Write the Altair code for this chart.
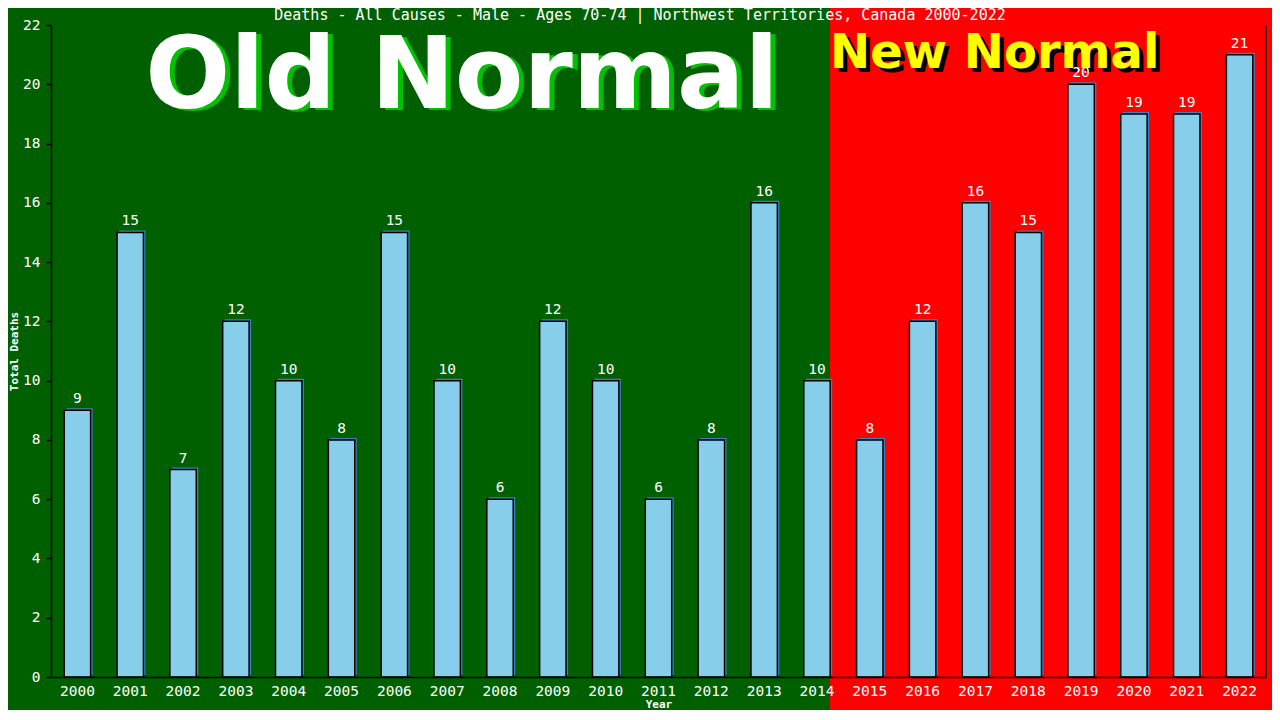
import altair as alt
import pandas as pd

years = ["2000", "2001", "2002", "2003", "2004", "2005", "2006", "2007", "2008",
         "2009", "2010", "2011", "2012", "2013", "2014", "2015", "2016", "2017",
         "2018", "2019", "2020", "2021", "2022"]
deaths = [9, 15, 7, 12, 10, 8, 15, 10, 6, 12, 10, 6, 8, 16, 10, 8, 12, 16, 15, 20, 19, 19, 21]
y_ticks = [0, 2, 4, 6, 8, 10, 12, 14, 16, 18, 20, 22]
title_text = "Deaths - All Causes - Male - Ages 70-74 | Northwest Territories, Canada 2000-2022"

df = pd.DataFrame({"Year": years, "Deaths": deaths})
one = pd.DataFrame({"a": [0]})

W, H = 1215, 652
MONO = "DejaVu Sans Mono"
FS = 14.5

xscale = alt.Scale(domain=years, paddingInner=0.5, paddingOuter=0.25)
yscale = alt.Scale(domain=[0, 22], nice=False)

xaxis = alt.Axis(title="Year", labelColor="white", labelFont=MONO, labelFontSize=FS,
                 labelAngle=0, labelPadding=7, tickSize=0, ticks=False,
                 domainColor="black", domainWidth=1.5, titleColor="white", titleFont=MONO,
                 titleFontSize=11, titleFontWeight="bold", titleY=30,
                 titleBaseline="alphabetic", zindex=2)
yaxis = alt.Axis(title="Total Deaths", values=y_ticks, labelColor="white", labelFont=MONO,
                 labelFontSize=FS, labelPadding=6, tickSize=5, tickColor="black",
                 tickWidth=1.5, domainColor="black", domainWidth=1.5, grid=False,
                 titleColor="white", titleFont=MONO, titleFontSize=11,
                 titleFontWeight="bold", titleX=-34, titleY=H / 2, titleAngle=-90,
                 titleAlign="center", titleBaseline="alphabetic", zindex=2)

base = alt.Chart(df)

green_bg = alt.Chart(one).mark_rect(color="#006000", clip=False).encode(
    x=alt.value(-60), x2=alt.value(779), y=alt.value(-30), y2=alt.value(H + 60))

old_shadow = alt.Chart(one).mark_text(text="Old Normal", font="DejaVu Sans", fontWeight="bold",
                                      fontSize=100, color="#00C000", align="center",
                                      baseline="alphabetic").encode(
    x=alt.value(411 + 5), y=alt.value(83 + 2))
old_text = alt.Chart(one).mark_text(text="Old Normal", font="DejaVu Sans", fontWeight="bold",
                                    fontSize=100, color="white", align="center",
                                    baseline="alphabetic").encode(
    x=alt.value(411), y=alt.value(83))
new_shadow = alt.Chart(one).mark_text(text="New Normal", font="DejaVu Sans", fontWeight="bold",
                                      fontSize=48, color="black", align="left",
                                      baseline="alphabetic").encode(
    x=alt.value(779 + 4), y=alt.value(43 + 4))
new_text = alt.Chart(one).mark_text(text="New Normal", font="DejaVu Sans", fontWeight="bold",
                                    fontSize=48, color="#FFFF00", align="left",
                                    baseline="alphabetic").encode(
    x=alt.value(779), y=alt.value(43))

shadow_bars = base.mark_bar(color="#3F7FC0", xOffset=2, yOffset=-2).encode(
    x=alt.X("Year:N", scale=xscale, axis=xaxis),
    y=alt.Y("Deaths:Q", scale=yscale, axis=yaxis))
bars = base.mark_bar(fill="#87CEEB", stroke="black", strokeWidth=1.5).encode(
    x=alt.X("Year:N", scale=xscale),
    y=alt.Y("Deaths:Q", scale=yscale))
labels = base.mark_text(color="white", font=MONO, fontSize=FS, baseline="alphabetic",
                        dy=-7).encode(
    x=alt.X("Year:N", scale=xscale),
    y=alt.Y("Deaths:Q", scale=yscale),
    text="Deaths:Q")

right_rule = alt.Chart(one).mark_rule(color="black", strokeWidth=1.5).encode(
    x=alt.value(W), y=alt.value(0), y2=alt.value(H))

title = alt.Chart(one).mark_text(text=title_text, font=MONO, fontSize=15, color="white",
                                 align="center", baseline="alphabetic", clip=False).encode(
    x=alt.value(589), y=alt.value(-5))

chart = alt.layer(
    green_bg, old_shadow, old_text, new_shadow, new_text,
    shadow_bars, bars, labels, right_rule, title
).properties(
    width=W, height=H,
    autosize=alt.AutoSizeParams(type="none"),
    padding={"left": 43, "top": 17, "right": 6, "bottom": 33},
).configure(background="#FF0000").configure_view(stroke=None)

chart.save("out.html", embed_options={"renderer": "svg", "actions": False})
